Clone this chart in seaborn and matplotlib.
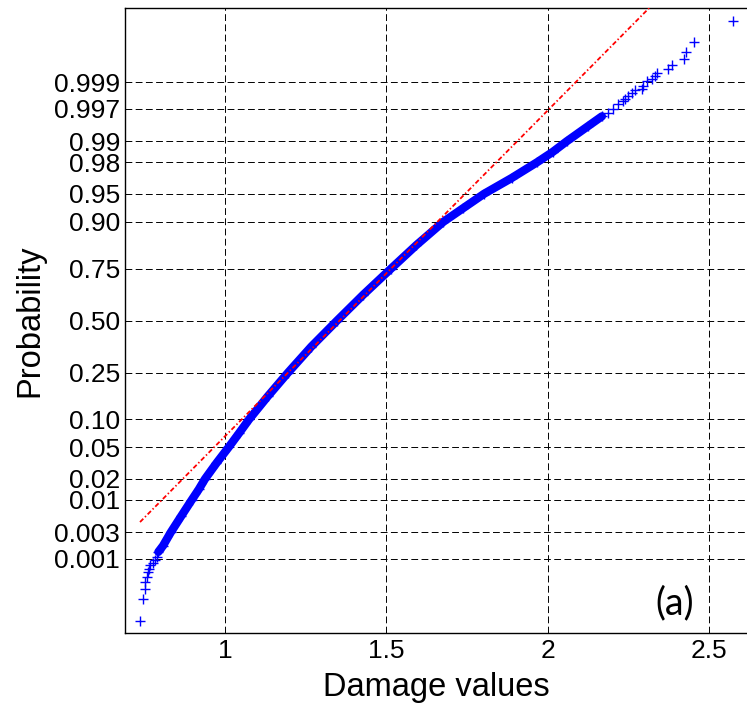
import numpy as np
import matplotlib
matplotlib.use("Agg")
import matplotlib.pyplot as plt
import seaborn as sns
from statistics import NormalDist

# ---------------- data ----------------
prob_levels = [0.00005, 0.00015, 0.00025, 0.00035, 0.00045, 0.00055, 0.00065, 0.00075,
               0.00085, 0.00095, 0.00109, 0.00135, 0.00175, 0.0030, 0.00554, 0.0100,
               0.01426, 0.0200, 0.0322, 0.0500, 0.0721, 0.1000, 0.1636, 0.2500,
               0.3680, 0.5000, 0.6320, 0.7500, 0.8365, 0.9000, 0.9279, 0.9500,
               0.9678, 0.9800, 0.98574, 0.9900, 0.99413, 0.99598, 0.9965, 0.9970,
               0.9975, 0.9978, 0.9980, 0.99824, 0.99843, 0.99859, 0.99867, 0.99885,
               0.99905, 0.99915, 0.99925, 0.99935, 0.99945, 0.99955, 0.99965, 0.99975,
               0.99985, 0.99995]
damage_values = [0.7366, 0.7468, 0.7521, 0.7530, 0.7574, 0.7605, 0.7645, 0.7676,
                 0.7778, 0.7831, 0.7880, 0.7934, 0.8079, 0.8317, 0.8636, 0.8968,
                 0.9185, 0.9380, 0.9733, 1.0108, 1.0434, 1.0744, 1.1329, 1.1952,
                 1.2674, 1.3471, 1.4286, 1.5144, 1.5931, 1.6765, 1.7385, 1.8026,
                 1.8880, 1.9668, 2.0160, 2.0589, 2.1240, 2.1680, 2.1880, 2.2008,
                 2.2190, 2.2320, 2.2400, 2.2498, 2.2603, 2.2705, 2.2912, 2.2963,
                 2.3067, 2.3222, 2.3325, 2.3378, 2.3737, 2.3843, 2.4224, 2.4276,
                 2.4534, 2.5750]
sample_size = 10000

prob_ticks = [0.001, 0.003, 0.01, 0.02, 0.05, 0.10, 0.25, 0.50, 0.75,
              0.90, 0.95, 0.98, 0.99, 0.997, 0.999]
prob_tick_labels = ["0.001", "0.003", "0.01", "0.02", "0.05", "0.10", "0.25", "0.50",
                    "0.75", "0.90", "0.95", "0.98", "0.99", "0.997", "0.999"]
x_ticks = [1, 1.5, 2, 2.5]
x_tick_labels = ["1", "1.5", "2", "2.5"]

# ---------------- normal probability scale ----------------
_nd = NormalDist()
_ppf = np.vectorize(_nd.inv_cdf, otypes=[float])
_cdf = np.vectorize(_nd.cdf, otypes=[float])


def prob_forward(p):
    p = np.clip(np.asarray(p, dtype=float), 1e-15, 1 - 1e-15)
    return _ppf(p)


def prob_inverse(z):
    return _cdf(np.asarray(z, dtype=float))


sns.set_style("white")
plt.rcParams["font.family"] = ["Liberation Sans", "DejaVu Sans"]
plt.rcParams["text.color"] = "black"
plt.rcParams["axes.labelcolor"] = "black"
plt.rcParams["xtick.color"] = "black"
plt.rcParams["ytick.color"] = "black"

W, H = 747, 708
fig = plt.figure(figsize=(W / 100, H / 100), dpi=100)
ax_l, ax_r, ax_t, ax_b = 125.3, 747.0, 8.0, 633.3
ax = fig.add_axes([ax_l / W, (H - ax_b) / H, (ax_r - ax_l) / W, (ax_b - ax_t) / H])

prob = np.array(prob_levels)
dmg = np.array(damage_values)

# dense central part of the sample: thousands of overlapping '+' markers form a solid band
band = (prob > 0.0013) & (prob < 0.9962)
sns.lineplot(x=dmg[band], y=prob[band], sort=False, estimator=None, ax=ax,
             color="#0000ff", lw=6, solid_capstyle="round", solid_joinstyle="round")
sns.scatterplot(x=dmg, y=prob, marker="+", s=44, color="#0000ff",
                linewidth=1.0, ax=ax, zorder=3)

# reference line through first and third quartiles, from min to max of the data
x25 = np.interp(0.25, prob, dmg)
x75 = np.interp(0.75, prob, dmg)
z25, z75 = prob_forward(0.25), prob_forward(0.75)
slope = (z75 - z25) / (x75 - x25)
line_x = np.array([dmg.min(), dmg.max()])
line_p = prob_inverse(z25 + (line_x - x25) * slope)
ax.plot(line_x, line_p, color="#ff0000", lw=1.3,
        linestyle=(0, (2.6, 1.3, 0.8, 1.3)), zorder=4)

ax.set_yscale("function", functions=(prob_forward, prob_inverse))
lim = 0.25 / sample_size
ax.set_ylim(lim, 1 - lim)
ax.set_xlim(0.691, 2.6176)

ax.set_yticks(prob_ticks)
ax.set_yticklabels(prob_tick_labels)
ax.set_xticks(x_ticks)
ax.set_xticklabels(x_tick_labels)
ax.minorticks_off()
ax.tick_params(axis="both", direction="in", length=4, width=0.8, labelsize=19,
               pad=3.8, colors="black")

ax.grid(True, color="black", lw=0.7, linestyle=(0, (7, 3.5)))
ax.set_axisbelow(True)

for side in ["left", "bottom", "top"]:
    ax.spines[side].set_visible(True)
    ax.spines[side].set_color("black")
    ax.spines[side].set_linewidth(1.0)
ax.spines["right"].set_visible(False)

ax.set_xlabel("Damage values", fontsize=23.5, labelpad=7, color="black")
ax.set_ylabel("Probability", fontsize=23.5, labelpad=6, color="black")

ax.text(0.884, 0.048, "(a)", transform=ax.transAxes, fontsize=27, color="black",
        family=["Lato", "DejaVu Sans"], ha="center", va="center")

fig.savefig("out.png", dpi=100)
